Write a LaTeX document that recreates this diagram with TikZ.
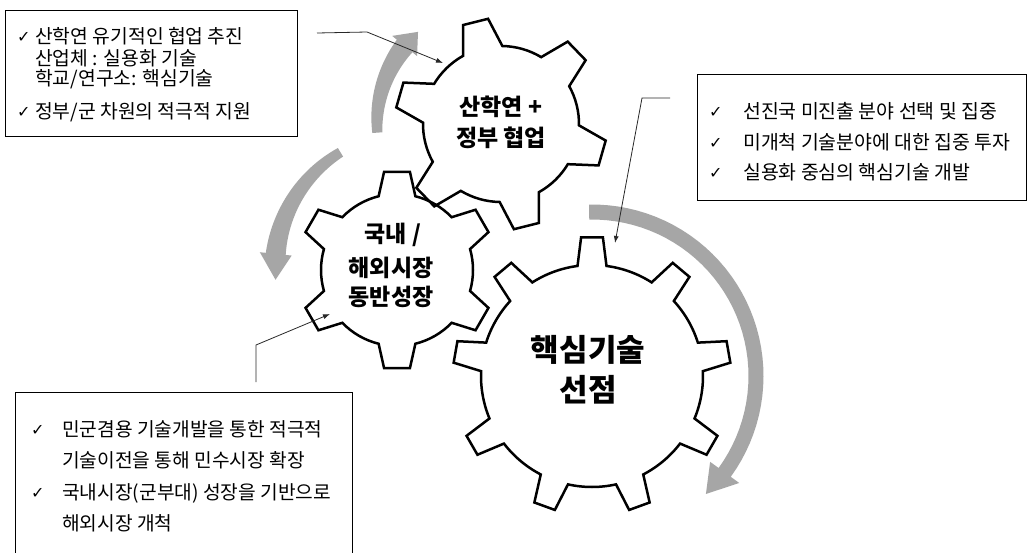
\documentclass[tikz,border=0pt]{standalone}
\usepackage{fontspec}
\setmainfont{Noto Sans CJK KR}
\newfontfamily\symf{DejaVu Sans}
\usetikzlibrary{arrows.meta}
\definecolor{arcgray}{RGB}{166,166,166}
\definecolor{linegray}{RGB}{40,40,40}
\tikzset{
 gearline/.style={line width=2.5pt, line join=miter, draw=black},
 boxframe/.style={draw=black, line width=0.9pt, inner sep=0pt},
 conn/.style={draw=linegray, line width=0.8pt, -{Latex[length=7pt,width=5pt]}},
 boxtextA/.style={anchor=base west, inner sep=0pt, font=\fontsize{19.3}{22}\selectfont},
 boxtextB/.style={anchor=base west, inner sep=0pt, font=\fontsize{19.4}{22}\selectfont},
 boxtextC/.style={anchor=base west, inner sep=0pt, font=\fontsize{19.2}{22}\selectfont},
 chk/.style={anchor=base west, inner sep=0pt, font=\symf\fontsize{16}{18}\selectfont},
 geartext/.style={anchor=center, inner sep=0pt, font=\bfseries\fontsize{23}{28}\selectfont},
 bigtext/.style={anchor=center, inner sep=0pt, font=\bfseries\fontsize{31}{36}\selectfont},
}
% cx, cy, r, R, n-1, start angle, base half angle, tip half angle
\newcommand\drawgear[8]{%
 \begin{scope}[shift={(#1,#2)}]
 \draw[gearline] ({#6-#7}:#3)
  \foreach \k in {0,...,#5} {
    -- ({#6+\k*360/(#5+1)-#8}:#4) -- ({#6+\k*360/(#5+1)+#8}:#4) -- ({#6+\k*360/(#5+1)+#7}:#3)
    arc[start angle={#6+\k*360/(#5+1)+#7}, end angle={#6+(\k+1)*360/(#5+1)-#7}, radius=#3pt]
  } -- cycle;
 \end{scope}}
% cx, cy, r, a0, a1, w0, w1, head half width, tip angle
\newcommand\grayarc[9]{%
 \fill[arcgray] plot[domain=#4:#5, samples=40]
   ({#1+(#3+(#6+(#7-(#6))*(\x-(#4))/((#5)-(#4)))/2)*cos(\x)}, {#2+(#3+(#6+(#7-(#6))*(\x-(#4))/((#5)-(#4)))/2)*sin(\x)})
   -- ({#1+(#3+#8)*cos(#5)}, {#2+(#3+#8)*sin(#5)})
   -- ({#1+#3*cos(#9)}, {#2+#3*sin(#9)})
   -- ({#1+(#3-#8)*cos(#5)}, {#2+(#3-#8)*sin(#5)})
   -- plot[domain=#5:#4, samples=40]
   ({#1+(#3-(#6+(#7-(#6))*(\x-(#4))/((#5)-(#4)))/2)*cos(\x)}, {#2+(#3-(#6+(#7-(#6))*(\x-(#4))/((#5)-(#4)))/2)*sin(\x)})
   -- cycle;}
\begin{document}
\begin{tikzpicture}[x=1pt,y=1pt]
\useasboundingbox[fill=white] (0,0) rectangle (1034,-552);
% gray circular arrows
\grayarc{501}{-124}{124}{184}{141}{10}{20}{16}{132}
\grayarc{410}{-268}{135}{121}{174}{10}{20}{16}{185}
\grayarc{592}{-376}{164}{91}{-36}{15}{15}{18}{-46}
% gears
\drawgear{501}{-124}{78}{106}{5}{104}{15}{7}
\drawgear{397}{-270}{76}{99}{5}{90}{14}{7.5}
\drawgear{592}{-376}{111}{139}{8}{90}{7.5}{4.5}
% gear labels
\node[geartext] (m1) at (501,-107) {산학연 +};
\node[geartext] (m2) at (501,-138) {정부 협업};
\node[geartext] (s1) at (393,-235) {국내 /};
\node[geartext] (s2) at (391,-268) {해외시장};
\node[geartext] (s3) at (391,-297) {동반성장};
\node[bigtext] (g1) at (588,-350) {핵심기술};
\node[bigtext] (g2) at (588,-390) {선점};
% box 1
\node[boxframe, anchor=north west, minimum width=292pt, minimum height=126pt] (box1) at (5,-10) {};
\node[chk] (k11) at (17,-42) {✓};
\node[boxtextA] (t11) at (35,-43.3) {산학연 유기적인 협업 추진};
\node[boxtextA] (t12) at (35,-65.3) {산업체 : 실용화 기술};
\node[boxtextA] (t13) at (35,-85.3) {학교/연구소: 핵심기술};
\node[chk] (k12) at (17,-117.5) {✓};
\node[boxtextA] (t14) at (35,-118.8) {정부/군 차원의 적극적 지원};
% box 2
\node[boxframe, anchor=north west, minimum width=329pt, minimum height=126pt] (box2) at (697,-74) {};
\node[chk] (k21) at (709,-117.5) {✓};
\node[boxtextB] (t21) at (743,-118.8) {선진국 미진출 분야 선택 및 집중};
\node[chk] (k22) at (709,-148.5) {✓};
\node[boxtextB] (t22) at (743,-149.8) {미개척 기술분야에 대한 집중 투자};
\node[chk] (k23) at (709,-178.5) {✓};
\node[boxtextB] (t23) at (743,-179.8) {실용화 중심의 핵심기술 개발};
% box 3
\node[boxframe, anchor=north west, minimum width=337pt, minimum height=220pt] (box3) at (15,-392) {};
\node[chk] (k31) at (31,-435.5) {✓};
\node[boxtextC] (t31) at (62,-436.8) {민군겸용 기술개발을 통한 적극적};
\node[boxtextC] (t32) at (62,-467.8) {기술이전을 통해 민수시장 확장};
\node[chk] (k32) at (31,-498.5) {✓};
\node[boxtextC] (t33) at (62,-499.8) {국내시장(군부대) 성장을 기반으로};
\node[boxtextC] (t34) at (62,-530.8) {해외시장 개척};
% connectors
\coordinate (c1a) at (317,-33);
\coordinate (c1b) at (367,-32);
\coordinate (c1c) at (443,-63);
\draw[conn] (c1a) -- (c1b) -- (c1c);
\coordinate (c2a) at (670,-98);
\coordinate (c2b) at (642,-98);
\coordinate (c2c) at (615,-243);
\draw[conn] (c2a) -- (c2b) -- (c2c);
\coordinate (c3a) at (256,-382);
\coordinate (c3b) at (256,-345);
\coordinate (c3c) at (330,-314);
\draw[conn] (c3a) -- (c3b) -- (c3c);
\end{tikzpicture}
\end{document}
